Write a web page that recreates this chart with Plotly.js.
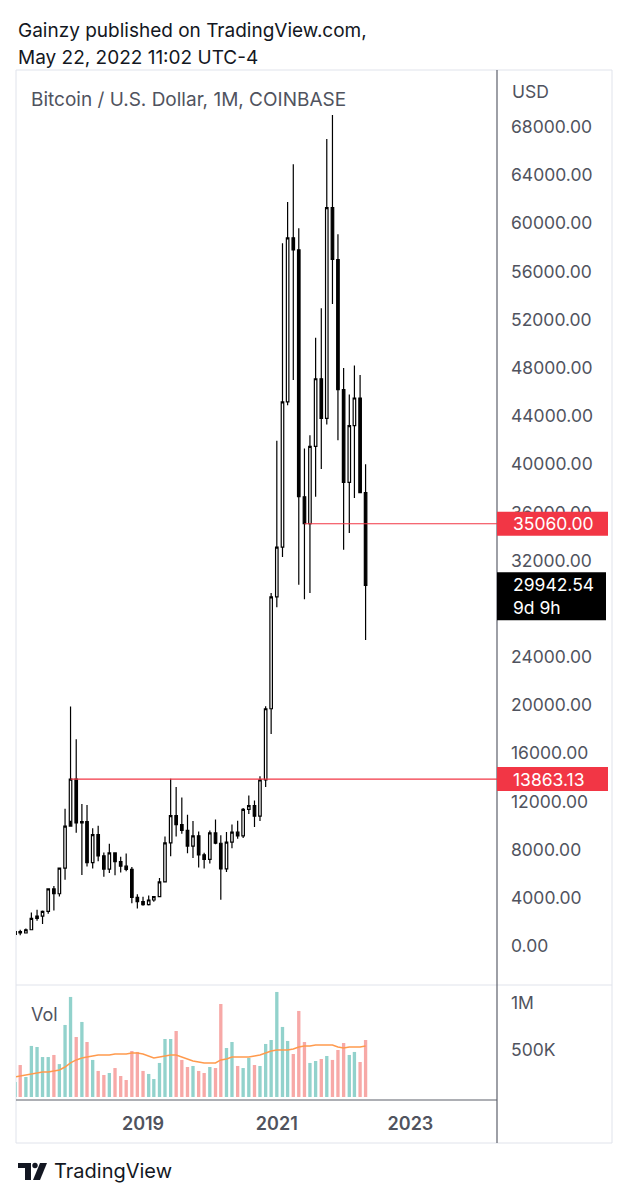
<!DOCTYPE html>
<html>
<head>
<meta charset="utf-8">
<script src="https://cdn.plot.ly/plotly-3.0.1.min.js"></script>
<style>
  html, body { margin: 0; padding: 0; background: #ffffff; }
  #chart { width: 628px; height: 1200px; }
</style>
</head>
<body>
<div id="chart"></div>
<script>
// ---------- DATA ----------
const months = [
  "2017-02-01","2017-03-01","2017-04-01","2017-05-01","2017-06-01","2017-07-01","2017-08-01","2017-09-01","2017-10-01","2017-11-01","2017-12-01",
  "2018-01-01","2018-02-01","2018-03-01","2018-04-01","2018-05-01","2018-06-01","2018-07-01","2018-08-01","2018-09-01","2018-10-01","2018-11-01","2018-12-01",
  "2019-01-01","2019-02-01","2019-03-01","2019-04-01","2019-05-01","2019-06-01","2019-07-01","2019-08-01","2019-09-01","2019-10-01","2019-11-01","2019-12-01",
  "2020-01-01","2020-02-01","2020-03-01","2020-04-01","2020-05-01","2020-06-01","2020-07-01","2020-08-01","2020-09-01","2020-10-01","2020-11-01","2020-12-01",
  "2021-01-01","2021-02-01","2021-03-01","2021-04-01","2021-05-01","2021-06-01","2021-07-01","2021-08-01","2021-09-01","2021-10-01","2021-11-01","2021-12-01",
  "2022-01-01","2022-02-01","2022-03-01","2022-04-01","2022-05-01"
];
const openP = [
  965,1190,1080,1350,2300,2480,2870,4740,4340,6460,9950,
  13863,10220,10320,6920,9240,7490,6390,7730,7010,6630,6370,4040,
  3690,3440,3820,4100,5320,8570,10820,10080,9600,8300,9150,7570,
  7190,9390,8530,6410,8630,9450,9140,11350,11660,10780,13800,19700,
  28990,33110,45170,58800,57800,37300,35060,41490,47100,43800,61300,57000,
  46200,38500,43200,45500,37640
];
const highP = [
  1200,1350,1450,2790,3000,2950,4750,4980,6470,11400,19890,
  17170,11790,11700,9770,9990,7760,8500,7760,7410,7680,6550,4300,
  4080,4200,4120,5640,9090,13880,13200,12330,10900,10370,9510,7750,
  9580,10500,9190,9460,10080,10390,11450,12490,12090,14100,19900,29300,
  41950,58350,61780,64900,59600,41300,42400,50500,52950,67000,69000,59100,
  47990,45800,48200,47400,40000
];
const lowP = [
  910,890,1060,1350,2100,1830,2670,2950,4100,5500,10400,
  9400,5900,6600,6430,7040,5750,6070,5880,6100,6200,3550,3120,
  3350,3370,3680,4050,5300,7450,9100,9320,7700,7300,6520,6430,
  6850,8450,3850,6150,8110,8900,8970,10950,9880,10370,13200,17600,
  28130,32300,44900,47000,30000,28800,29300,37300,39600,43300,53300,42000,
  32900,34300,37200,37640,25400
];
const closeP = [
  1190,1080,1350,2300,2480,2870,4740,4340,6460,9950,13863.13,
  10220,10320,6920,9240,7490,6390,7730,7010,6630,6370,4040,3690,
  3440,3820,4100,5320,8570,10820,10080,9600,8300,9150,7570,7190,
  9390,8530,6410,8630,9450,9140,11350,11660,10780,13800,19700,28990,
  33110,45170,58800,57800,37300,35060,41490,47100,43800,61300,57000,46200,
  38500,43200,45500,37640,29942.54
];
const volume = [
  160000,340000,213000,543000,532000,425000,425000,447000,350000,766000,1064000,
  638000,798000,585000,394000,277000,234000,255000,308000,223000,181000,489000,479000,
  277000,245000,191000,362000,617000,617000,702000,394000,319000,330000,277000,255000,
  319000,308000,989000,521000,585000,330000,308000,415000,340000,330000,564000,606000,
  1117000,745000,596000,457000,915000,585000,362000,383000,404000,436000,394000,500000,
  574000,447000,479000,372000,606000
];
const volumeMA = [
  213000,223000,234000,245000,255000,266000,266000,277000,287000,319000,362000,
  394000,415000,425000,436000,447000,447000,447000,457000,457000,457000,468000,468000,
  457000,436000,415000,425000,436000,447000,447000,425000,404000,383000,372000,362000,
  362000,362000,394000,404000,425000,425000,425000,425000,436000,447000,468000,489000,
  500000,500000,500000,511000,532000,543000,543000,553000,553000,553000,553000,532000,
  521000,532000,532000,532000,543000
];
// 28000 is hidden behind the last-price box in the reference
const priceTicks = [0,4000,8000,12000,16000,20000,24000,32000,36000,40000,44000,48000,52000,56000,60000,64000,68000];
const volTicks = [500000, 1000000];
const volTickText = ["500K", "1M"];
const levels = [35060.00, 13863.13];
const levelFrom = ["2021-06-01", "2017-12-01"];
const lastPrice = 29942.54;
const countdown = "9d 9h";
const header1 = "Gainzy published on TradingView.com,";
const header2 = "May 22, 2022 11:02 UTC-4";
const symbolTitle = "Bitcoin / U.S. Dollar, 1M, COINBASE";

// ---------- STYLE / GEOMETRY ----------
const FONT = "Inter, 'Noto Sans', Roboto, sans-serif";
const W = 628, H = 1200;
const L = 16, R = 497, T = 70, B = 1100;           // plot area in pixels
const pw = R - L, ph = B - T;
const px = x => (x - L) / pw;                      // pixel -> paper x
const py = y => (B - y) / ph;                      // pixel -> paper y
const volTop = 985;
const volDomTop = (B - volTop) / ph;
const xRange = ["2017-02-06", "2024-04-18"];
const axisGray = "#50535e";

const volColors = closeP.map((c, i) => c >= openP[i] ? "#92d2cc" : "#f7a9a7");

const traces = [
  {
    type: "candlestick", x: months, open: openP, high: highP, low: lowP, close: closeP,
    xaxis: "x", yaxis: "y", whiskerwidth: 0, hoverinfo: "skip",
    increasing: { line: { color: "#000000", width: 1.2 }, fillcolor: "#ffffff" },
    decreasing: { line: { color: "#000000", width: 1.2 }, fillcolor: "#000000" }
  },
  {
    type: "bar", x: months, y: volume, xaxis: "x", yaxis: "y2",
    marker: { color: volColors, line: { width: 0 } }, hoverinfo: "skip"
  },
  {
    type: "scatter", mode: "lines", x: months, y: volumeMA, xaxis: "x", yaxis: "y2",
    line: { color: "#ff9a4d", width: 1.5 }, hoverinfo: "skip"
  }
];

const shapes = [
  { type: "rect", xref: "paper", yref: "paper", x0: px(16), x1: px(612), y0: py(1143), y1: py(70),
    line: { color: "#e0e3eb", width: 1 }, fillcolor: "rgba(0,0,0,0)", layer: "below" },
  { type: "line", xref: "paper", yref: "paper", x0: px(16), x1: px(612), y0: volDomTop, y1: volDomTop,
    line: { color: "#e0e3eb", width: 1 } },
  { type: "line", xref: "paper", yref: "paper", x0: 1, x1: 1, y0: py(1143), y1: py(70),
    line: { color: "#5d606b", width: 1.2 } },
  { type: "line", xref: "paper", yref: "paper", x0: 0, x1: 1, y0: 0, y1: 0,
    line: { color: "#5d606b", width: 1.2 } }
];

levels.forEach((lv, i) => {
  shapes.push({ type: "line", xref: "x", yref: "y", x0: levelFrom[i], x1: xRange[1], y0: lv, y1: lv,
    line: { color: "#f23645", width: 1.2 } });
  shapes.push({ type: "rect", xref: "paper", yref: "y", x0: 1, x1: px(608),
    ysizemode: "pixel", yanchor: lv, y0: -12, y1: 12,
    fillcolor: "#f23645", line: { width: 0 } });
});
shapes.push({ type: "rect", xref: "paper", yref: "y", x0: 1, x1: px(606),
  ysizemode: "pixel", yanchor: lastPrice, y0: -35, y1: 13,
  fillcolor: "#000000", line: { width: 0 } });

// TradingView logo
const logoAX = px(16), logoAY = py(1171);
shapes.push({ type: "path", xref: "paper", yref: "paper", xsizemode: "pixel", ysizemode: "pixel",
  xanchor: logoAX, yanchor: logoAY, path: "M2,8 L15,8 L15,-9 L9,-9 L9,3 L2,3 Z",
  fillcolor: "#131722", line: { width: 0 } });
shapes.push({ type: "circle", xref: "paper", yref: "paper", xsizemode: "pixel", ysizemode: "pixel",
  xanchor: logoAX, yanchor: logoAY, x0: 16.3, x1: 21.7, y0: 2.8, y1: 8.2,
  fillcolor: "#131722", line: { width: 0 } });
shapes.push({ type: "path", xref: "paper", yref: "paper", xsizemode: "pixel", ysizemode: "pixel",
  xanchor: logoAX, yanchor: logoAY, path: "M24,8 L31,8 L24,-9 L17,-9 Z",
  fillcolor: "#131722", line: { width: 0 } });

const annotations = [
  { text: header1, xref: "paper", yref: "paper", x: px(16), y: py(30), xanchor: "left", yanchor: "middle",
    showarrow: false, font: { family: FONT, size: 19, color: "#131722" } },
  { text: header2, xref: "paper", yref: "paper", x: px(16), y: py(57), xanchor: "left", yanchor: "middle",
    showarrow: false, font: { family: FONT, size: 19, color: "#131722" } },
  { text: symbolTitle, xref: "paper", yref: "paper", x: px(29), y: py(99), xanchor: "left", yanchor: "middle",
    showarrow: false, font: { family: FONT, size: 19, color: axisGray } },
  { text: "USD", xref: "paper", yref: "paper", x: px(510), y: py(92), xanchor: "left", yanchor: "middle",
    showarrow: false, font: { family: FONT, size: 17.5, color: axisGray } },
  { text: "Vol", xref: "paper", yref: "paper", x: px(29), y: py(1014), xanchor: "left", yanchor: "middle",
    showarrow: false, font: { family: FONT, size: 18, color: axisGray } },
  { text: "TradingView", xref: "paper", yref: "paper", x: px(52), y: py(1171), xanchor: "left", yanchor: "middle",
    showarrow: false, font: { family: FONT, size: 20, color: "#131722" } }
];
levels.forEach(lv => {
  annotations.push({ text: lv.toFixed(2), xref: "paper", yref: "y", x: px(511), y: lv,
    xanchor: "left", yanchor: "middle", showarrow: false,
    font: { family: FONT, size: 17.5, color: "#ffffff" } });
});
annotations.push({ text: lastPrice.toFixed(2) + "<br>" + countdown, xref: "paper", yref: "y",
  x: px(511), y: lastPrice, xanchor: "left", yanchor: "middle", yshift: -11, align: "left",
  showarrow: false, font: { family: FONT, size: 17.5, color: "#ffffff" } });

const layout = {
  width: W, height: H,
  margin: { l: L, r: W - R, t: T, b: H - B, pad: 0 },
  paper_bgcolor: "#ffffff", plot_bgcolor: "#ffffff",
  showlegend: false, hovermode: false, bargap: 0.35,
  font: { family: FONT, color: axisGray },
  xaxis: {
    type: "date", range: xRange, anchor: "y2", rangeslider: { visible: false },
    tick0: "2019-01-01", dtick: "M24", tickformat: "%Y", ticks: "", showgrid: false,
    zeroline: false, showline: false, ticklabelstandoff: 11,
    tickfont: { family: FONT, size: 18, color: axisGray, weight: 600 }
  },
  yaxis: {
    domain: [volDomTop, 1], range: [-3238, 72733], side: "right", anchor: "x",
    tickmode: "array", tickvals: priceTicks, tickformat: ".2f", ticks: "",
    showgrid: false, zeroline: false, showline: false, ticklabelstandoff: 13,
    tickfont: { family: FONT, size: 17.5, color: axisGray }
  },
  yaxis2: {
    domain: [0, volDomTop], range: [-32000, 1191000], side: "right", anchor: "x",
    tickmode: "array", tickvals: volTicks, ticktext: volTickText, ticks: "",
    showgrid: false, zeroline: false, showline: false, ticklabelstandoff: 13,
    tickfont: { family: FONT, size: 17.5, color: axisGray }
  },
  shapes: shapes,
  annotations: annotations
};

Plotly.newPlot("chart", traces, layout, { staticPlot: true, displayModeBar: false });
</script>
</body>
</html>
